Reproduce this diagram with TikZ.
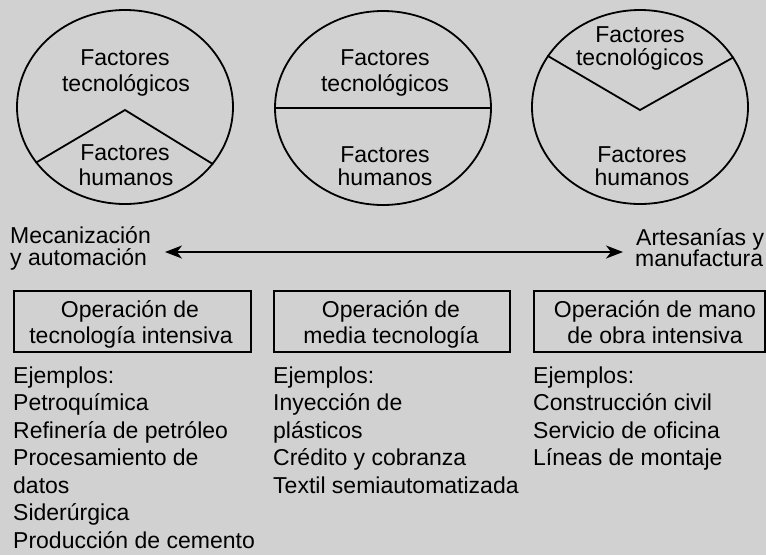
\documentclass[tikz,border=0pt]{standalone}
\usepackage{fontspec}
\setmainfont{Liberation Sans}
\usetikzlibrary{shapes.geometric,arrows.meta}
\begin{document}
\begin{tikzpicture}[x=1pt,y=-1pt,
  txt/.style={font=\fontsize{23}{26}\selectfont, inner sep=0pt, anchor=base},
  ltxt/.style={txt, anchor=base west},
  pie/.style={ellipse, draw, line width=1.8pt, minimum width=216pt, minimum height=194pt, inner sep=0pt},
  divider/.style={line width=1.8pt, line join=miter},
  opbox/.style={draw, line width=1.8pt, anchor=north west, inner sep=0pt, minimum height=61pt},
  scale arrow/.style={line width=1.6pt, {Stealth[length=17pt,width=13pt,inset=5pt]}-{Stealth[length=17pt,width=13pt,inset=5pt]}},
]
\useasboundingbox[fill=black!18] (0,0) rectangle (766,555);

% ---- circles ----
\node[pie] (c1) at (125,107) {};
\node[pie] (c2) at (383,108) {};
\node[pie] (c3) at (640,107) {};

\coordinate (v1) at (125,110);
\coordinate (v3) at (640,110);
\draw[divider] (c1.212.5) -- (v1) -- (c1.327.5);
\draw[divider] (c2.west) -- (c2.east);
\draw[divider] (c3.151.7) -- (v3) -- (c3.28.3);

% circle texts
\node[txt] (c1a) at (125,65) {Factores};
\node[txt] (c1b) at (126,91) {tecnológicos};
\node[txt] (c1c) at (125,160) {Factores};
\node[txt] (c1d) at (126,185) {humanos};

\node[txt] (c2a) at (385,65) {Factores};
\node[txt] (c2b) at (385,91) {tecnológicos};
\node[txt] (c2c) at (385,162) {Factores};
\node[txt] (c2d) at (385,185) {humanos};

\node[txt] (c3a) at (640,42) {Factores};
\node[txt] (c3b) at (640,65) {tecnológicos};
\node[txt] (c3c) at (642,162) {Factores};
\node[txt] (c3d) at (642,185) {humanos};

% ---- scale ----
\node[ltxt] (m1) at (10,243) {Mecanización};
\node[ltxt] (m2) at (10,265) {y automación};
\node[ltxt] (a1) at (636,245) {Artesanías y};
\node[ltxt] (a2) at (635,266) {manufactura};
\coordinate (al) at (165,252);
\coordinate (ar) at (623,252);
\draw[scale arrow] (al) -- (ar);

% ---- boxes ----
\node[opbox, minimum width=237pt] (b1) at (13,290) {};
\node[opbox, minimum width=236pt] (b2) at (273,290) {};
\node[opbox, minimum width=231pt] (b3) at (533,290) {};

\node[txt] (b1a) at (130,317) {Operación de};
\node[txt] (b1b) at (131,343) {tecnología intensiva};
\node[txt] (b2a) at (391,317) {Operación de};
\node[txt] (b2b) at (391,343) {media tecnología};
\node[txt] (b3a) at (655,317) {Operación de mano};
\node[txt] (b3b) at (655,343) {de obra intensiva};

% ---- examples ----
\foreach \t [count=\i] in {Ejemplos:,Petroquímica,Refinería de petróleo,Procesamiento de,datos,Siderúrgica,Producción de cemento}
  \node[ltxt] (e1-\i) at (13,{383+27.5*(\i-1)}) {\t};
\foreach \t [count=\i] in {Ejemplos:,Inyección de,plásticos,Crédito y cobranza,Textil semiautomatizada}
  \node[ltxt] (e2-\i) at (273,{383+27.5*(\i-1)}) {\t};
\foreach \t [count=\i] in {Ejemplos:,Construcción civil,Servicio de oficina,Líneas de montaje}
  \node[ltxt] (e3-\i) at (533,{383+27.5*(\i-1)}) {\t};
\end{tikzpicture}
\end{document}
